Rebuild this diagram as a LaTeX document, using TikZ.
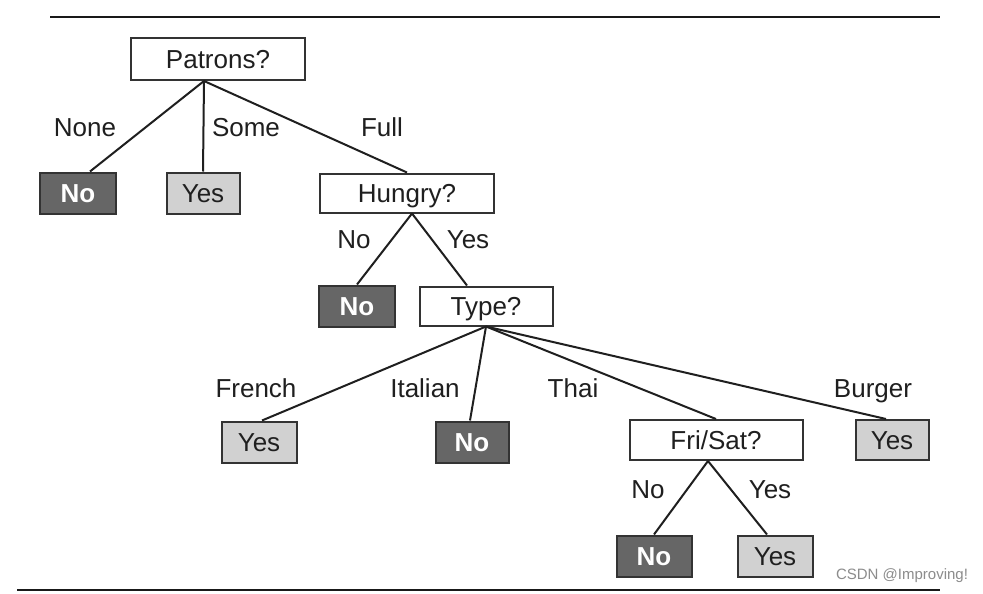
\documentclass[tikz,border=0pt]{standalone}
\usepackage{fontspec}
\setmainfont{Liberation Sans}
\begin{document}
\begin{tikzpicture}[x=1pt,y=-1pt,
  box/.style={draw=black!80, line width=2pt, inner sep=0pt, text height=18.5pt, text depth=0pt, font=\fontsize{26}{28}\selectfont, text=black!88},
  test/.style={box, fill=white},
  noleaf/.style={box, fill=black!60, text=white, font=\fontsize{26}{28}\selectfont\bfseries},
  yesleaf/.style={box, fill=black!18},
  lbl/.style={inner sep=0pt, text height=18.5pt, text depth=0pt, font=\fontsize{26}{28}\selectfont, text=black!88},
  edge/.style={draw=black!88, line width=2pt}]
\useasboundingbox (0,0) rectangle (983,594);
\fill[white] (0,0) rectangle (983,594);
\coordinate (tl) at (50,17); \coordinate (tr) at (940,17);
\coordinate (bl) at (17,590); \coordinate (br) at (940,590);
\draw[line width=2.6pt, black!90] (tl) -- (tr);
\draw[line width=2.6pt, black!90] (bl) -- (br);

\node[test, minimum width=174pt, minimum height=42pt] (pat) at (218,59) {Patrons?};
\node[noleaf, minimum width=76pt, minimum height=41pt] (n1) at (78,193) {No};
\node[yesleaf, minimum width=73pt, minimum height=41pt] (y1) at (203,193) {Yes};
\node[test, minimum width=174pt, minimum height=39pt] (hun) at (407,193) {Hungry?};
\node[noleaf, minimum width=76pt, minimum height=41pt] (n2) at (357,306) {No};
\node[test, minimum width=133pt, minimum height=39pt] (typ) at (486,306) {Type?};
\node[yesleaf, minimum width=75pt, minimum height=41pt] (y2) at (259,442) {Yes};
\node[noleaf, minimum width=73pt, minimum height=41pt] (n3) at (472,442) {No};
\node[test, minimum width=173pt, minimum height=40pt] (fri) at (716,440) {Fri/Sat?};
\node[yesleaf, minimum width=73pt, minimum height=40pt] (y3) at (892,440) {Yes};
\node[noleaf, minimum width=75pt, minimum height=41pt] (n4) at (654,556) {No};
\node[yesleaf, minimum width=75pt, minimum height=41pt] (y4) at (775,556) {Yes};

\draw[edge] ([xshift=-14pt]pat.south) -- ([xshift=12pt]n1.north);
\draw[edge] ([xshift=-14pt]pat.south) -- (y1.north);
\draw[edge] ([xshift=-14pt]pat.south) -- (hun.north);
\draw[edge] ([xshift=5pt]hun.south) -- (n2.north);
\draw[edge] ([xshift=5pt]hun.south) -- ([xshift=-19pt]typ.north);
\draw[edge] (typ.south) -- ([xshift=3pt]y2.north);
\draw[edge] (typ.south) -- ([xshift=-2pt]n3.north);
\draw[edge] (typ.south) -- (fri.north);
\draw[edge] (typ.south) -- ([xshift=-6pt]y3.north);
\draw[edge] ([xshift=-8pt]fri.south) -- (n4.north);
\draw[edge] ([xshift=-8pt]fri.south) -- ([xshift=-8pt]y4.north);

\node[lbl] (lnone) at (85,127) {None};
\node[lbl] (lsome) at (246,127) {Some};
\node[lbl] (lfull) at (382,127) {Full};
\node[lbl] (lhno) at (354,239) {No};
\node[lbl] (lhyes) at (468,239) {Yes};
\node[lbl] (lfr) at (256,388) {French};
\node[lbl] (lit) at (425,388) {Italian};
\node[lbl] (lth) at (573,388) {Thai};
\node[lbl] (lbu) at (873,388) {Burger};
\node[lbl] (lfno) at (648,489) {No};
\node[lbl] (lfyes) at (770,489) {Yes};

\node[inner sep=0pt, font=\fontsize{15}{17}\selectfont, text=black!45] (wm) at (902,576) {CSDN @Improving!};
\end{tikzpicture}
\end{document}
